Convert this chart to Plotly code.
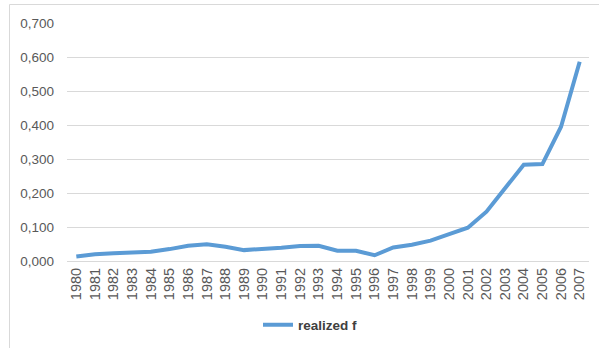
import plotly.graph_objects as go

years = [str(y) for y in range(1980, 2008)]
realized_f = [0.013, 0.020, 0.023, 0.025, 0.027, 0.035, 0.045, 0.049, 0.042, 0.032,
              0.035, 0.039, 0.044, 0.045, 0.030, 0.030, 0.017, 0.040, 0.048, 0.060,
              0.079, 0.098, 0.145, 0.214, 0.283, 0.285, 0.395, 0.586]
series_name = "realized f"

W, H = 599, 348
font_family = "Liberation Sans, Arial, sans-serif"
grey = "#595959"

fig = go.Figure()
fig.add_trace(go.Scatter(
    x=years, y=realized_f, mode="lines", name=series_name,
    line=dict(color="#5b9bd5", width=4),
))

fig.update_layout(
    width=W, height=H,
    margin=dict(l=0, r=0, t=0, b=0),
    paper_bgcolor="white", plot_bgcolor="white",
    separators=",.",
    font=dict(family=font_family, size=13, color=grey),
    xaxis=dict(
        domain=[67 / W, 589 / W],
        type="category",
        range=[-0.5, len(years) - 0.5],
        tickangle=-90,
        showgrid=False, showline=False, zeroline=False,
        ticks="", automargin=False,
        ticklabelstandoff=3,
        tickfont=dict(size=14.5, color=grey),
    ),
    yaxis=dict(
        domain=[1 - 261 / H, 1 - 23 / H],
        range=[0, 0.7],
        dtick=0.1,
        tickformat=".3f",
        showgrid=True, gridcolor="#d9d9d9", gridwidth=1,
        zeroline=True, zerolinecolor="#d9d9d9", zerolinewidth=1,
        showline=False, ticks="", automargin=False,
        ticklabelstandoff=12,
        tickfont=dict(size=13.5, color=grey),
    ),
    showlegend=True,
    legend=dict(
        orientation="h",
        x=258 / W, xanchor="left",
        y=1 - 325 / H, yanchor="middle",
        font=dict(size=13.5, color="#404040", weight="bold"),
        bgcolor="rgba(0,0,0,0)",
    ),
    shapes=[dict(
        type="rect", xref="paper", yref="paper",
        x0=9.5 / W, x1=1.02, y0=-0.02, y1=1 - 4.5 / H,
        line=dict(color="#d9d9d9", width=1), fillcolor="rgba(0,0,0,0)",
        layer="below",
    )],
)

fig.write_html("out.html")
